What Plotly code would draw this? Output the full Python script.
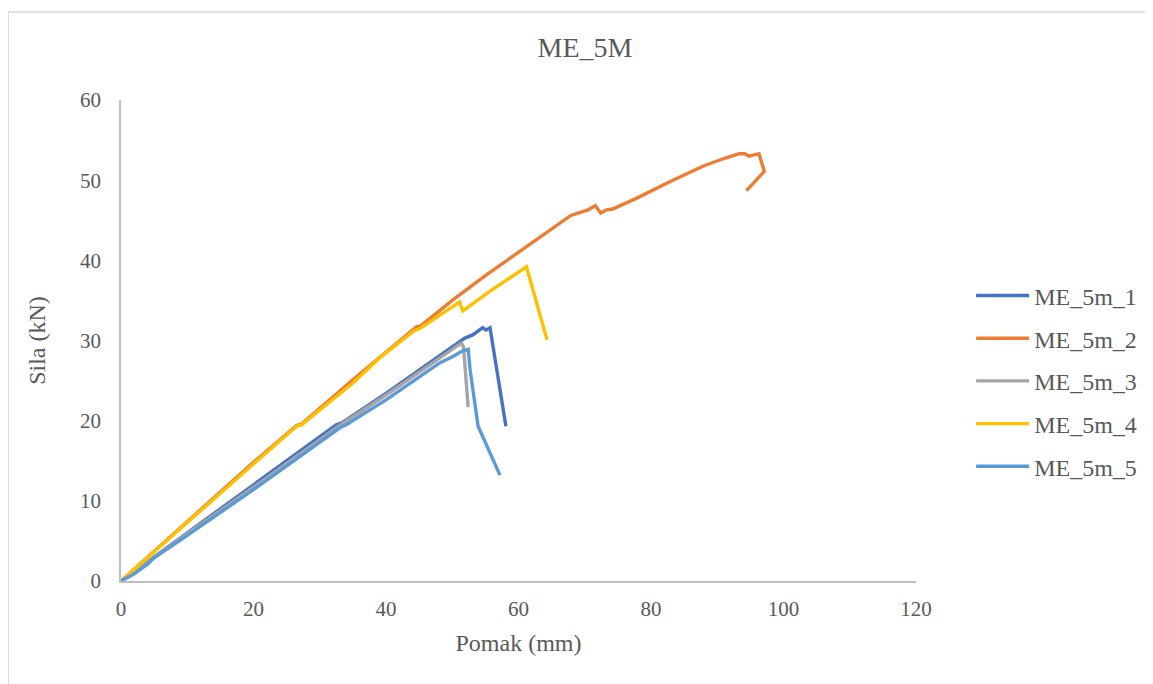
import plotly.graph_objects as go

# ME_5m_1
x1 = [0, 4, 10, 20, 32.5, 33.5, 40, 51.9, 53.1, 54.6, 55.1, 55.7, 58.1]
y1 = [0, 2.4, 6.0, 12.0, 19.5, 19.8, 23.4, 30.3, 30.7, 31.6, 31.3, 31.6, 19.3]
# ME_5m_2
x2 = [0, 5, 10, 20, 26.5, 27.3, 35, 44.6, 45.2, 50, 55, 60.2, 65, 67.9, 70.5, 71.6, 72.4, 73.3, 74.2, 77.7,
      83.3, 88, 91, 93.3, 94.1, 94.8, 96.3, 97.1, 94.4]
y2 = [0, 3.7, 7.4, 14.8, 19.4, 19.6, 25.1, 31.7, 31.8, 35.0, 38.1, 41.1, 43.9, 45.6, 46.3, 46.8, 45.9, 46.3, 46.4,
      47.7, 50.0, 51.8, 52.7, 53.3, 53.3, 53.0, 53.3, 51.1, 48.7]
# ME_5m_3
x3 = [0, 4, 10, 20, 33, 40, 51.4, 51.7, 52.4]
y3 = [0, 2.4, 5.9, 11.7, 19.4, 23.2, 29.7, 29.2, 21.7]
# ME_5m_4
x4 = [0, 5, 10, 20, 26.5, 27.3, 35, 39, 44.2, 45.1, 51.1, 51.6, 54.6, 55.6, 61.2, 64.3]
y4 = [0, 3.6, 7.3, 14.6, 19.3, 19.5, 24.7, 27.8, 31.2, 31.5, 34.8, 33.7, 35.6, 36.1, 39.2, 30.1]
# ME_5m_5
x5 = [0, 2, 4, 5, 10, 20, 33.2, 34.0, 40, 48.1, 50.1, 51.3, 52.4, 52.7, 53.9, 57.2]
y5 = [0, 0.9, 2.1, 2.9, 5.7, 11.4, 19.2, 19.5, 22.6, 27.2, 28.0, 28.6, 28.9, 26.3, 19.3, 13.2]

names = ["ME_5m_1", "ME_5m_2", "ME_5m_3", "ME_5m_4", "ME_5m_5"]
colors = ["#4472C4", "#ED7D31", "#A5A5A5", "#FFC000", "#5B9BD5"]
xs = [x1, x2, x3, x4, x5]
ys = [y1, y2, y3, y4, y5]

fig = go.Figure()
for n, c, xx, yy in zip(names, colors, xs, ys):
    fig.add_trace(go.Scatter(x=xx, y=yy, mode="lines", name=n, legendgroup=n,
                             line=dict(color=c, width=3.4)))

font = "Liberation Serif, serif"
axis_common = dict(showgrid=False, zeroline=False, showline=True, linecolor="#BFBFBF", linewidth=1.5,
                   ticks="")

fig.update_layout(
    width=1145, height=676,
    margin=dict(l=113, r=236, t=92, b=103),
    paper_bgcolor="white", plot_bgcolor="white",
    title=dict(text="ME_5M", x=(577 / 1145), xanchor="center", y=1 - 39 / 676, yanchor="middle",
               font=dict(family=font, size=28, color="#595959")),
    xaxis=dict(range=[0, 120], dtick=20, ticklabelstandoff=8,
               tickfont=dict(family=font, size=21, color="#595959"),
               title=dict(text="Pomak (mm)", standoff=14,
                          font=dict(family=font, size=24, color="#595959")), **axis_common),
    yaxis=dict(range=[0, 60], dtick=10, ticklabelstandoff=14,
               tickfont=dict(family=font, size=21, color="#595959"),
               title=dict(text="Sila (kN)", standoff=28,
                          font=dict(family=font, size=24, color="#595959")), **axis_common),
    legend=dict(x=1.068, xanchor="left", y=0.416, yanchor="middle", tracegroupgap=8.5,
                itemwidth=53, font=dict(family=font, size=24, color="#595959"),
                bgcolor="rgba(0,0,0,0)"),
    showlegend=True,
)
fig.add_shape(type="rect", xref="paper", yref="paper",
              x0=(0 - 113) / 796, x1=1.4, y0=-0.4, y1=(573 - 4) / 481,
              line=dict(color="#D9D9D9", width=1.5), fillcolor="rgba(0,0,0,0)", layer="below")

fig.write_html("out.html")
